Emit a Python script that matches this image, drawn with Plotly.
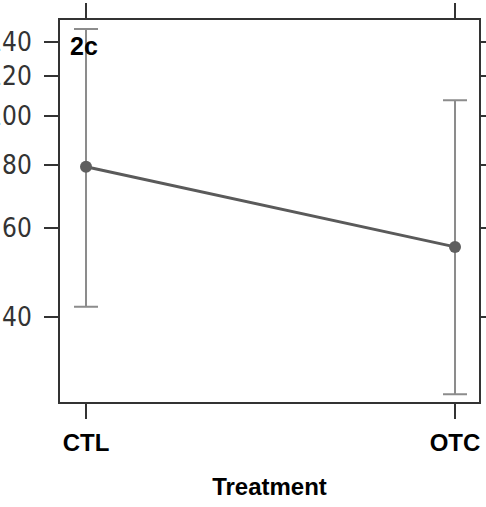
import plotly.graph_objects as go

categories = ["CTL", "OTC"]
means = [79.3, 55.1]
upper = [148.3, 107.3]
lower = [42.0, 28.2]
ytick_vals = [40, 60, 80, 100, 120, 140]
ytick_text = ["40", "60", "80", "100", "120", "140"]
panel_label = "2c"
x_title = "Treatment"

err_plus = [u - m for u, m in zip(upper, means)]
err_minus = [m - l for m, l in zip(means, lower)]

fig = go.Figure()
fig.add_trace(go.Scatter(
    x=[0, 1], y=means, mode="lines+markers",
    line=dict(color="#5a5a5a", width=3),
    marker=dict(color="#5f5f5f", size=12),
    error_y=dict(type="data", symmetric=False, array=err_plus, arrayminus=err_minus,
                 color="#8c8c8c", thickness=2, width=12),
    showlegend=False,
))

fig.add_annotation(text="<b>" + panel_label + "</b>", xref="paper", yref="paper",
                   x=0.018, y=0.973, xanchor="left", yanchor="top", showarrow=False,
                   font=dict(family="Liberation Sans, Arial", size=25, color="#000000"))

fig.update_layout(
    width=486, height=507,
    margin=dict(l=60, r=7, t=20, b=105, autoexpand=False),
    plot_bgcolor="white", paper_bgcolor="white",
    font=dict(family="Liberation Sans, Arial", color="#222222"),
)
fig.update_xaxes(
    range=[-0.0705, 1.065], automargin=False,
    tickvals=[0, 1], ticktext=["<b>" + c + "</b>" for c in categories],
    tickfont=dict(size=24, color="#000000"),
    ticks="outside", ticklen=15, tickwidth=2, tickcolor="#333333",
    showline=True, linecolor="#333333", linewidth=2, mirror="allticks",
    showgrid=False, zeroline=False, ticklabelstandoff=3,
    title=dict(text="<b>" + x_title + "</b>", font=dict(size=24, color="#000000"), standoff=23),
)
fig.update_yaxes(
    type="log", range=[1.435, 2.189], automargin=False,
    tickvals=ytick_vals, ticktext=ytick_text,
    tickfont=dict(family="Liberation Sans Narrow, DejaVu Sans Condensed, Liberation Sans", size=26, color="#333333"),
    ticks="outside", ticklen=14, tickwidth=2, tickcolor="#333333",
    showline=True, linecolor="#333333", linewidth=2, mirror="allticks",
    showgrid=False, zeroline=False, ticklabelstandoff=7,
)

fig.write_html("out.html", config={"displayModeBar": False},
               post_script="document.body.style.margin='0px';")
